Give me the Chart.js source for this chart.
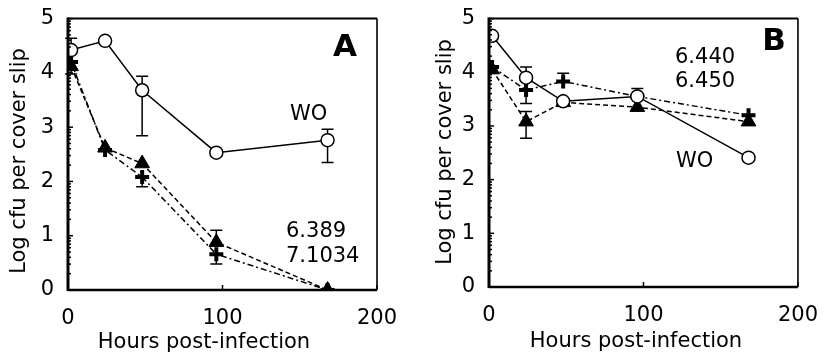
<!DOCTYPE html>
<html><head><meta charset="utf-8">
<script src="https://cdn.jsdelivr.net/npm/chart.js@4/dist/chart.umd.min.js"></script>
<style>
html,body{margin:0;padding:0;background:#fff;}
#wrap{position:relative;width:826px;height:356px;background:#fff;}
.pane{position:absolute;top:0;width:413px;height:356px;}
</style></head><body>
<div id="wrap">
<div class="pane" style="left:0"><canvas id="cA" width="413" height="356"></canvas></div>
<div class="pane" style="left:413px"><canvas id="cB" width="413" height="356"></canvas></div>
</div>
<script>
// ---- data ----
const hours = [2, 24, 48, 96, 168];
const xTickValues = [0, 100, 200];
const yTickValues = [0, 1, 2, 3, 4, 5];

// Panel A
const aWO      = [4.42, 4.59, 3.68, 2.53, 2.76];
const aWOHi    = [4.64, null, 3.94, null, 2.96];
const aWOLo    = [null, null, 2.84, null, 2.35];
const a6389    = [4.12, 2.62, 2.33, 0.88, 0.00];
const a6389Hi  = [null, null, null, 1.10, null];
const a6389Lo  = [3.98, null, null, null, null];
const a71034   = [4.20, 2.58, 2.08, 0.66, 0.00];
const a71034Hi = [null, null, null, null, null];
const a71034Lo = [null, null, 1.90, 0.48, null];

// Panel B
const bWO      = [4.68, 3.90, 3.46, 3.55, 2.41];
const bWOHi    = [null, 4.10, null, null, null];
const bWOLo    = [null, null, null, null, null];
const b6440    = [4.10, 3.67, 3.83, 3.55, 3.20];
const b6440Hi  = [null, null, 3.98, 3.70, null];
const b6440Lo  = [null, 3.42, null, null, null];
const b6450    = [4.05, 3.08, 3.44, 3.35, 3.08];
const b6450Hi  = [null, 3.27, null, null, null];
const b6450Lo  = [null, 2.77, null, null, null];

const xTitle = 'Hours post-infection';
const yTitle = 'Log cfu per cover slip';

// ---- drawing ----
const FONT = "'DejaVu Sans', Verdana, sans-serif";

const pts = vals => vals.map((v, i) => ({x: hours[i], y: v}));

function woSet(vals, hi, lo) {
  return {data: pts(vals), errHi: hi, errLo: lo, borderColor: '#000', borderWidth: 1.5,
    pointStyle: 'circle', pointRadius: 6.5, pointBackgroundColor: '#fff', pointBorderColor: '#000',
    pointBorderWidth: 1.5, tension: 0, order: 1};
}
function triSet(vals, hi, lo) {
  return {data: pts(vals), errHi: hi, errLo: lo, borderColor: '#000', borderWidth: 1.5, borderDash: [5, 3],
    pointStyle: 'triangle', pointRadius: 8.5, pointBackgroundColor: '#000', pointBorderColor: '#000',
    pointBorderWidth: 1, tension: 0, order: 3};
}
function plusSet(vals, hi, lo) {
  return {data: pts(vals), errHi: hi, errLo: lo, borderColor: '#000', borderWidth: 1.5, borderDash: [6, 3, 2, 3],
    pointStyle: 'cross', pointRadius: 7, pointBackgroundColor: '#000', pointBorderColor: '#000',
    pointBorderWidth: 4, tension: 0, order: 2};
}

const decor = {
  id: 'decor',
  beforeDatasetsDraw(chart) {
    const {ctx, scales: {x, y}} = chart;
    ctx.save();
    ctx.strokeStyle = '#000'; ctx.lineWidth = 1.5; ctx.setLineDash([]);
    chart.data.datasets.forEach(ds => {
      ds.data.forEach((p, i) => {
        const px = x.getPixelForValue(p.x), py = y.getPixelForValue(p.y);
        [ds.errHi && ds.errHi[i], ds.errLo && ds.errLo[i]].forEach(e => {
          if (e == null) return;
          const ey = y.getPixelForValue(e);
          ctx.beginPath();
          ctx.moveTo(px, py); ctx.lineTo(px, ey);
          ctx.moveTo(px - 6, ey); ctx.lineTo(px + 6, ey);
          ctx.stroke();
        });
      });
    });
    ctx.restore();
  },
  afterDraw(chart, args, opts) {
    const {ctx, chartArea: a, scales: {x, y}} = chart;
    ctx.save();
    ctx.strokeStyle = '#000'; ctx.setLineDash([]);
    // frame
    ctx.lineWidth = 2; ctx.beginPath(); ctx.moveTo(a.left, a.top); ctx.lineTo(a.right, a.top); ctx.stroke();
    ctx.lineWidth = 1.6; ctx.beginPath(); ctx.moveTo(a.right, a.top); ctx.lineTo(a.right, a.bottom); ctx.stroke();
    ctx.lineWidth = 2.5; ctx.beginPath(); ctx.moveTo(a.left, a.bottom); ctx.lineTo(a.right, a.bottom); ctx.stroke();
    ctx.lineWidth = 3; ctx.beginPath(); ctx.moveTo(a.left, a.top - 1); ctx.lineTo(a.left, a.bottom + 1); ctx.stroke();
    // y ticks (major + log minor)
    ctx.lineWidth = 1.5;
    yTickValues.forEach(v => {
      const py = y.getPixelForValue(v);
      ctx.beginPath(); ctx.moveTo(a.left, py); ctx.lineTo(a.left + 5, py); ctx.stroke();
      if (v < 5) {
        for (let k = 2; k <= 9; k++) {
          const my = y.getPixelForValue(v + Math.log10(k));
          ctx.beginPath(); ctx.moveTo(a.left, my); ctx.lineTo(a.left + 3, my); ctx.stroke();
        }
      }
    });
    // x ticks
    xTickValues.forEach(v => {
      const px = x.getPixelForValue(v);
      ctx.beginPath(); ctx.moveTo(px, a.bottom); ctx.lineTo(px, a.bottom - 5); ctx.stroke();
    });
    // texts
    ctx.fillStyle = '#000';
    ctx.textBaseline = 'middle';
    (opts.texts || []).forEach(t => {
      ctx.font = t.font; ctx.textAlign = t.align || 'left';
      ctx.fillText(t.text, t.x, t.y);
    });
    // axis titles
    ctx.font = '21px ' + FONT; ctx.textAlign = 'center';
    ctx.fillText(xTitle, opts.xTitle[0], opts.xTitle[1]);
    ctx.translate(opts.yTitle[0], opts.yTitle[1]); ctx.rotate(-Math.PI / 2);
    ctx.fillText(yTitle, 0, 0);
    ctx.restore();
  }
};

function makeChart(id, datasets, geom) {
  return new Chart(document.getElementById(id), {
    type: 'line',
    data: {datasets},
    options: {
      responsive: false, animation: false, events: [],
      layout: {padding: {left: 0, right: geom.padR, top: geom.padT, bottom: 0}},
      plugins: {legend: {display: false}, tooltip: {enabled: false},
        decor: {texts: geom.texts, xTitle: geom.xTitle, yTitle: geom.yTitle}},
      scales: {
        x: {type: 'linear', min: 0, max: 200,
          grid: {display: false}, border: {display: false},
          afterFit: s => { s.height = geom.xH; },
          afterBuildTicks: s => { s.ticks = xTickValues.map(v => ({value: v})); },
          ticks: {color: '#000', font: {family: FONT, size: 21}, padding: 8, autoSkip: false, maxRotation: 0}},
        y: {type: 'linear', min: 0, max: 5,
          grid: {display: false}, border: {display: false},
          afterFit: s => { s.width = geom.yW; },
          afterBuildTicks: s => { s.ticks = yTickValues.map(v => ({value: v})); },
          ticks: {color: '#000', font: {family: FONT, size: 21}, padding: 6, autoSkip: false}}
      }
    },
    plugins: [decor]
  });
}

makeChart('cA', [woSet(aWO, aWOHi, aWOLo), triSet(a6389, a6389Hi, a6389Lo), plusSet(a71034, a71034Hi, a71034Lo)], {
  padR: 36, padT: 15, xH: 66, yW: 68,
  xTitle: [204, 343], yTitle: [20, 161],
  texts: [
    {text: 'A', x: 345, y: 48, font: 'bold 31px ' + FONT, align: 'center'},
    {text: 'WO', x: 290, y: 115, font: '21px ' + FONT},
    {text: '6.389', x: 286, y: 232, font: '21px ' + FONT},
    {text: '7.1034', x: 286, y: 257, font: '21px ' + FONT}
  ]
});

makeChart('cB', [woSet(bWO, bWOHi, bWOLo), triSet(b6450, b6450Hi, b6450Lo), plusSet(b6440, b6440Hi, b6440Lo)], {
  padR: 26, padT: 14, xH: 69, yW: 76,
  xTitle: [223, 342], yTitle: [33, 152],
  texts: [
    {text: 'B', x: 361, y: 42, font: 'bold 31px ' + FONT, align: 'center'},
    {text: '6.440', x: 262, y: 58, font: '21px ' + FONT},
    {text: '6.450', x: 262, y: 82, font: '21px ' + FONT},
    {text: 'WO', x: 263, y: 162, font: '21px ' + FONT}
  ]
});
</script>
</body></html>
